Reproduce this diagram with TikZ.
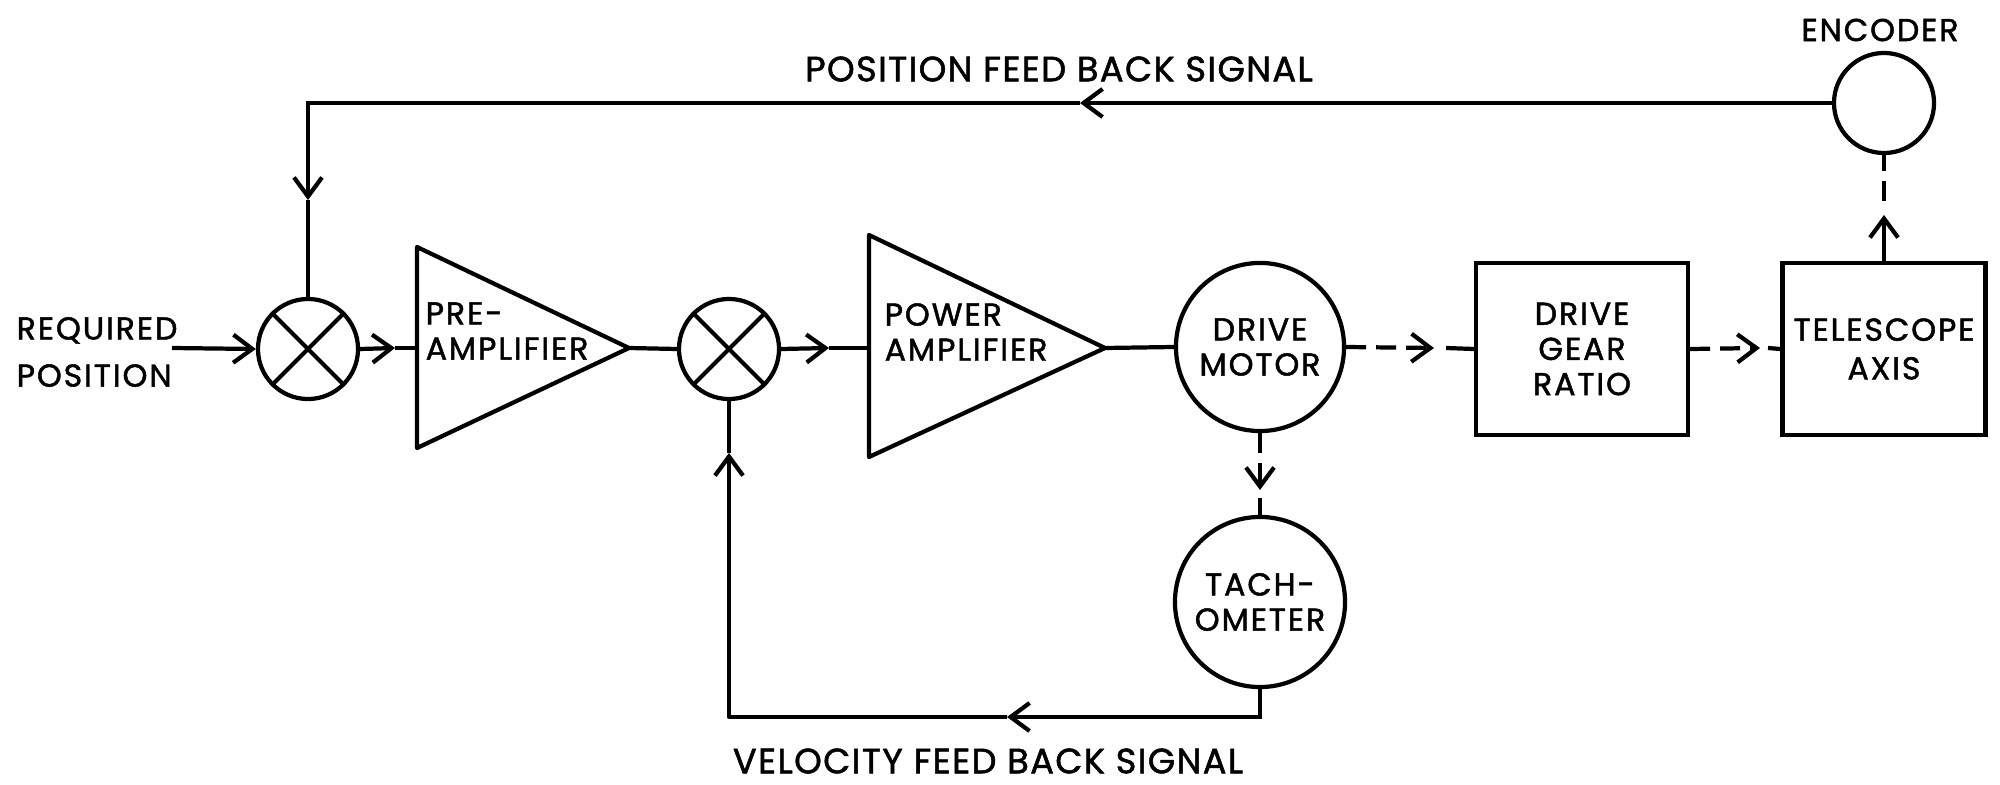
\documentclass[tikz,border=0pt]{standalone}
\usepackage{fontspec}
\setmainfont{Poppins}[LetterSpace=6, FakeBold=1.5]
\newfontfamily\labelfont{Poppins}[LetterSpace=4, FakeBold=1.5]
\usetikzlibrary{arrows.meta}
\begin{document}
\begin{tikzpicture}[x=0.01cm, y=-0.01cm,
  wire/.style={line width=1.2pt},
  tip/.style={-{Straight Barb[length=0.19cm,width=0.28cm]}},
  dashwire/.style={wire, dash pattern=on 0.2cm off 0.1cm},
  lbl/.style={font=\fontsize{9}{10}\selectfont, inner sep=0pt, align=center},
  sig/.style={font=\labelfont\fontsize{10}{11}\selectfont, inner sep=0pt},
  ring/.style={draw, circle, wire, inner sep=0pt, lbl},
  block/.style={draw, rectangle, wire, inner sep=0pt, lbl}]

\useasboundingbox (0,0) rectangle (2000,785);

% ---- blocks ----
\node[ring, minimum size=1cm] (s1) at (308,349) {};
\draw[wire] (s1.45) -- (s1.225) (s1.135) -- (s1.-45);
\node[ring, minimum size=1cm] (s2) at (729,349) {};
\draw[wire] (s2.45) -- (s2.225) (s2.135) -- (s2.-45);

% pre-amplifier and power amplifier triangles
\coordinate (pre-in)  at (417,348);
\coordinate (pre-out) at (629,348);
\draw[wire, line join=round] (417,247) -- (pre-out) -- (417,448) -- cycle;
\node[lbl, align=left, anchor=west] (pretext) at (425,331) {PRE-\\AMPLIFIER};

\coordinate (pow-in)  at (869,348);
\coordinate (pow-out) at (1105,348);
\draw[wire, line join=round] (869,235) -- (pow-out) -- (869,457) -- cycle;
\node[lbl, align=left, anchor=west] (powtext) at (884,332) {POWER\\AMPLIFIER};

\node[ring, minimum size=1.68cm] (motor) at (1260,347) {DRIVE\\MOTOR};
\node[ring, minimum size=1.70cm] (tach) at (1260,602) {TACH-\\OMETER};
\node[block, minimum width=2.12cm, minimum height=1.72cm] (gear) at (1582,349) {DRIVE\\GEAR\\RATIO};
\node[block, minimum width=2.03cm, minimum height=1.72cm] (tel) at (1884,349) {TELESCOPE\\[1pt]AXIS};
\node[ring, minimum size=1cm] (enc) at (1884,103) {};

% ---- labels ----
\node[lbl, align=left, anchor=west, font=\fontsize{9}{13.4}\selectfont] (req) at (16,352) {REQUIRED\\POSITION};
\node[lbl] (enclbl) at (1880,30) {ENCODER};
\node[sig] (poslbl) at (1059,69) {POSITION FEED BACK SIGNAL};
\node[sig] (vellbl) at (988,761) {VELOCITY FEED BACK SIGNAL};

% ---- forward path ----
\coordinate (inp) at (172,348);
\draw[wire, tip] (inp) -- (s1.west);

\coordinate (a1) at (395,348);
\draw[wire, tip] (s1.east) -- (a1);
\draw[wire] (a1) -- (pre-in);
\draw[wire] (pre-out) -- (s2.west);

\coordinate (a2) at (829,348);
\draw[wire, tip] (s2.east) -- (a2);
\draw[wire] (a2) -- (pow-in);
\draw[wire] (pow-out) -- (motor.west);

% mechanical links (dashed)
\coordinate (a3) at (1434,348);
\coordinate (a3b) at (1446,348);
\draw[dashwire, tip] (motor.east) -- (a3);
\draw[wire] (a3b) -- (gear.west);

\coordinate (a4) at (1760,348);
\coordinate (a4b) at (1768,348);
\draw[dashwire, tip] (gear.east) -- (a4);
\draw[wire] (a4b) -- (tel.west);

\coordinate (a5) at (1884,215);
\coordinate (a5b) at (1884,201);
\draw[wire, tip] (tel.north) -- (a5);
\draw[dashwire] (a5b) -- (enc.south);

\coordinate (a6) at (1260,490);
\coordinate (a6b) at (1260,498);
\draw[dashwire, tip] (motor.south) -- (a6);
\draw[wire] (a6b) -- (tach.north);

% ---- position feedback ----
\coordinate (a7) at (1080,103);
\coordinate (c1) at (308,103);
\coordinate (a8) at (308,200);
\draw[wire, tip] (enc.west) -- (a7);
\draw[wire, tip] (a7) -- (c1) -- (a8);
\draw[wire] (a8) -- (s1.north);

% ---- velocity feedback ----
\coordinate (c2) at (1260,717);
\coordinate (a9) at (1007,717);
\coordinate (c3) at (729,717);
\coordinate (a10) at (729,453);
\draw[wire, tip] (tach.south) -- (c2) -- (a9);
\draw[wire, tip, line join=round] (a9) -- (c3) -- (a10);
\draw[wire] (a10) -- (s2.south);
\end{tikzpicture}
\end{document}
